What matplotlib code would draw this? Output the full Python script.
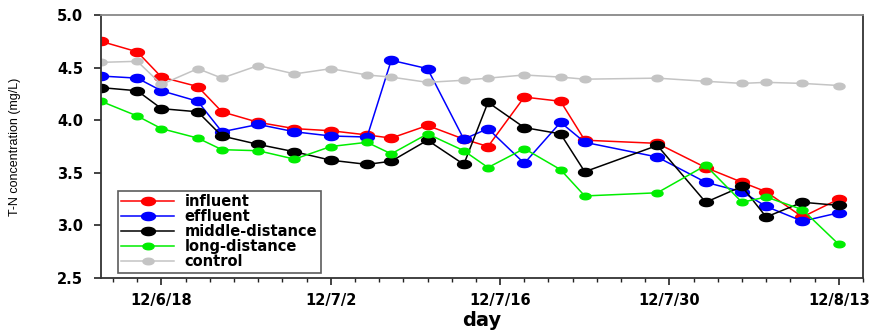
import numpy as np
import pandas as pd
import matplotlib
matplotlib.use("Agg")
import matplotlib.pyplot as plt
from matplotlib.path import Path

# sampling days
dates = ["2012-06-13", "2012-06-16", "2012-06-18", "2012-06-21", "2012-06-23",
         "2012-06-26", "2012-06-29", "2012-07-02", "2012-07-05", "2012-07-07",
         "2012-07-10", "2012-07-13", "2012-07-15", "2012-07-18", "2012-07-21",
         "2012-07-23", "2012-07-29", "2012-08-02", "2012-08-05", "2012-08-07",
         "2012-08-10", "2012-08-13"]

influent = [4.75, 4.65, 4.41, 4.32, 4.08, 3.98, 3.92, 3.90, 3.86, 3.83, 3.95,
            3.82, 3.75, 4.22, 4.18, 3.81, 3.78, 3.55, 3.41, 3.32, 3.08, 3.25]
effluent = [4.42, 4.40, 4.28, 4.18, 3.89, 3.96, 3.89, 3.85, 3.84, 4.57, 4.49,
            3.82, 3.92, 3.59, 3.98, 3.79, 3.65, 3.41, 3.32, 3.18, 3.04, 3.12]
middle = [4.31, 4.28, 4.11, 4.08, 3.85, 3.77, 3.70, 3.62, 3.58, 3.61, 3.81,
          3.58, 4.17, 3.93, 3.87, 3.51, 3.76, 3.22, 3.37, 3.08, 3.22, 3.19]
long_dist = [4.18, 4.04, 3.92, 3.83, 3.72, 3.71, 3.63, 3.75, 3.79, 3.68, 3.87,
             3.71, 3.55, 3.73, 3.53, 3.28, 3.31, 3.57, 3.22, 3.27, 3.15, 2.82]
control = [4.55, 4.56, 4.34, 4.49, 4.40, 4.52, 4.44, 4.49, 4.43, 4.41, 4.36,
           4.38, 4.40, 4.43, 4.41, 4.39, 4.40, 4.37, 4.35, 4.36, 4.35, 4.33]

tick_dates = ["2012-06-18", "2012-07-02", "2012-07-16", "2012-07-30", "2012-08-13"]
tick_labels = ["12/6/18", "12/7/2", "12/7/16", "12/7/30", "12/8/13"]

x = pd.to_datetime(dates)

# the original markers are squashed ovals
t = np.linspace(0, 2 * np.pi, 60)
oval = Path(np.column_stack([1.7 * np.cos(t), np.sin(t)]))

plt.rcParams["font.family"] = ["DejaVu Sans"]

fig = plt.figure(figsize=(8.69, 3.34), dpi=100)
ax = fig.add_axes([0.1162, 0.1677, 0.993 - 0.1162, 0.955 - 0.1677])

series = [
    (influent, "influent", "#ff0000", 10),
    (effluent, "effluent", "#0000ff", 10),
    (middle, "middle-distance", "#000000", 10),
    (long_dist, "long-distance", "#00ee00", 8),
    (control, "control", "#c4c4c4", 8),
]
for vals, name, col, ms in series:
    ax.plot(x, vals, color=col, lw=1.1, marker=oval, ms=ms,
            mec=col, mfc=col, label=name)

ax.set_ylim(2.5, 5.0)
ax.set_yticks([2.5, 3.0, 3.5, 4.0, 4.5, 5.0])
ax.set_yticklabels(["2.5", "3.0", "3.5", "4.0", "4.5", "5.0"],
                   fontsize=10.5, fontweight="bold")
ax.set_xlim(pd.Timestamp("2012-06-13"), pd.Timestamp("2012-08-15"))
ax.set_xticks(pd.to_datetime(tick_dates))
ax.set_xticklabels(tick_labels, fontsize=10.5, fontweight="bold")
ax.set_xticks(pd.date_range("2012-06-14", "2012-08-15", freq="2D"), minor=True)

ax.tick_params(axis="both", which="major", direction="out", length=5,
               width=1.2, color="#222222")
ax.tick_params(axis="x", which="minor", direction="out", length=3, width=1,
               color="#222222")
ax.tick_params(axis="x", which="major", pad=6)
ax.tick_params(axis="y", which="major", pad=8)

for side in ["left", "bottom", "right"]:
    ax.spines[side].set_color("#333333")
    ax.spines[side].set_linewidth(1.3)
ax.spines["top"].set_color("#888888")
ax.spines["top"].set_linewidth(1.3)

ax.set_ylabel("T-N concentration (mg/L)", fontsize=9, va="center",
              family=["Liberation Sans Narrow", "Liberation Sans"])
ax.yaxis.set_label_coords(-0.113, 0.5)
ax.set_xlabel("day", fontsize=14, fontweight="bold", va="center")
ax.xaxis.set_label_coords(0.5, -0.16)

leg = ax.legend(loc="lower left", bbox_to_anchor=(0.022, 0.019),
                prop={"size": 10.5, "weight": "bold"}, frameon=True,
                fancybox=False, handlelength=3.6, handletextpad=0.75,
                labelspacing=0.0, borderpad=0.25, borderaxespad=0)
leg.get_frame().set_edgecolor("#333333")
leg.get_frame().set_linewidth(1.2)

fig.savefig("out.png", dpi=100)
